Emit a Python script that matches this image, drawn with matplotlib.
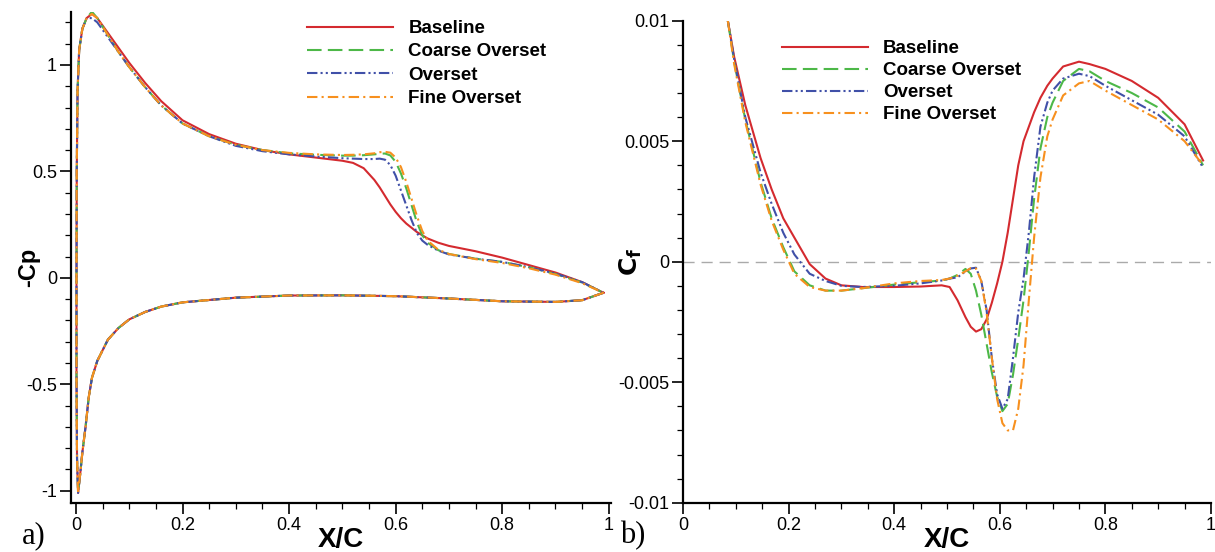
import matplotlib
matplotlib.use('Agg')
import matplotlib.pyplot as plt
from matplotlib.ticker import MultipleLocator
import numpy as np

plt.rcParams['font.family'] = ['Liberation Sans', 'DejaVu Sans']
plt.rcParams['axes.unicode_minus'] = False

labels = ['Baseline', 'Coarse Overset', 'Overset', 'Fine Overset']
colors = ['#d42a2f', '#4db848', '#4050a8', '#f7901e']
dashes = [None, (7, 3), (5, 1.5, 1, 1.5, 1, 1.5), (5, 2, 1, 2)]

# ---- panel a) pressure coefficient, -Cp vs x/c ----
# lower surface (shared, curves overlap), from stagnation point to TE
x_lower = [0.004, 0.008, 0.012, 0.018, 0.024, 0.03, 0.04, 0.05, 0.06, 0.08, 0.1,
           0.13, 0.16, 0.2, 0.3, 0.4, 0.5, 0.6, 0.7, 0.8, 0.9, 0.95, 0.99]
cp_lower = [-1.01, -0.92, -0.82, -0.70, -0.56, -0.47, -0.39, -0.34, -0.29, -0.235, -0.195,
            -0.16, -0.135, -0.115, -0.093, -0.083, -0.082, -0.086, -0.097, -0.11, -0.113, -0.105, -0.07]
# leading edge part of upper surface (shared)
x_le = [0.004, 0.002, 0.001, 0.001, 0.0015, 0.003, 0.006, 0.012, 0.02]
cp_le = [-1.01, -0.85, -0.45, 0.0, 0.5, 0.88, 1.07, 1.17, 1.22]
# upper surface
x_upper = [0.03, 0.04, 0.06, 0.08, 0.1, 0.13, 0.16, 0.2, 0.25, 0.3, 0.35, 0.4, 0.45, 0.5,
           0.52, 0.54, 0.56, 0.57, 0.58, 0.59, 0.6, 0.61, 0.62, 0.63, 0.64, 0.65, 0.66,
           0.68, 0.7, 0.75, 0.8, 0.85, 0.9, 0.95, 0.99]
cp_base = [1.24, 1.22, 1.15, 1.08, 1.01, 0.915, 0.83, 0.74, 0.675, 0.63, 0.60, 0.58, 0.565, 0.55,
           0.54, 0.515, 0.46, 0.425, 0.385, 0.345, 0.31, 0.28, 0.255, 0.235, 0.215, 0.20, 0.185,
           0.165, 0.15, 0.125, 0.095, 0.06, 0.025, -0.02, -0.07]
cp_coarse = [1.25, 1.22, 1.14, 1.06, 0.99, 0.895, 0.81, 0.725, 0.665, 0.625, 0.60, 0.585, 0.578, 0.574,
             0.574, 0.576, 0.58, 0.583, 0.584, 0.575, 0.545, 0.49, 0.42, 0.34, 0.26, 0.20, 0.165,
             0.13, 0.112, 0.09, 0.075, 0.05, 0.018, -0.022, -0.07]
cp_overset = [1.22, 1.20, 1.13, 1.06, 0.99, 0.895, 0.81, 0.725, 0.665, 0.62, 0.595, 0.58, 0.57, 0.562,
              0.56, 0.558, 0.558, 0.56, 0.555, 0.53, 0.48, 0.41, 0.34, 0.27, 0.21, 0.175, 0.155,
              0.128, 0.11, 0.09, 0.075, 0.05, 0.02, -0.02, -0.07]
cp_fine = [1.24, 1.22, 1.14, 1.06, 0.99, 0.895, 0.81, 0.725, 0.665, 0.625, 0.60, 0.587, 0.58, 0.577,
           0.578, 0.58, 0.585, 0.59, 0.592, 0.588, 0.565, 0.52, 0.45, 0.37, 0.29, 0.22, 0.175,
           0.132, 0.112, 0.088, 0.07, 0.045, 0.015, -0.025, -0.07]

# ---- panel b) skin friction coefficient ----
x_cf = [0.085, 0.097, 0.118, 0.147, 0.168, 0.19, 0.211, 0.24, 0.27, 0.30, 0.34, 0.40, 0.45, 0.49,
        0.505, 0.52, 0.535, 0.545, 0.555, 0.565, 0.575, 0.585, 0.595, 0.605, 0.615, 0.625, 0.635,
        0.645, 0.655, 0.665, 0.677, 0.69, 0.70, 0.72, 0.75, 0.77, 0.80, 0.85, 0.90, 0.95, 0.985]
cf_base = [0.0100, 0.0085, 0.0065, 0.0043, 0.0030, 0.0018, 0.0010, -0.0001, -0.0007, -0.00098,
           -0.00105, -0.00105, -0.00103, -0.00098, -0.00105, -0.0016, -0.0023, -0.0027, -0.0029,
           -0.0028, -0.0024, -0.0017, -0.0009, 0.0000, 0.0012, 0.0026, 0.0040, 0.0050, 0.0056,
           0.0062, 0.0068, 0.0073, 0.0076, 0.0081, 0.0083, 0.0082, 0.0080, 0.0075, 0.0068, 0.0057, 0.0042]
cf_coarse = [0.0100, 0.0083, 0.0059, 0.0033, 0.0018, 0.0006, -0.0004, -0.00098, -0.0012, -0.0012,
             -0.0011, -0.00095, -0.00085, -0.00078, -0.0007, -0.00055, -0.0003, -0.0005, -0.0012,
             -0.0022, -0.0034, -0.0046, -0.0056, -0.0062, -0.0059, -0.0047, -0.0032, -0.0016, 0.0004,
             0.0026, 0.0047, 0.0060, 0.0066, 0.0075, 0.0080, 0.0079, 0.0075, 0.0070, 0.0064, 0.0054, 0.0040]
cf_overset = [0.0100, 0.0084, 0.0060, 0.0037, 0.0024, 0.0012, 0.0003, -0.0005, -0.0008, -0.0010,
              -0.00105, -0.0010, -0.0009, -0.00078, -0.0007, -0.00065, -0.0004, -0.00028, -0.00025,
              -0.0008, -0.0020, -0.0040, -0.0055, -0.0061, -0.0057, -0.0040, -0.0021, -0.0007, 0.0012,
              0.0035, 0.0056, 0.0066, 0.0071, 0.0076, 0.0078, 0.0077, 0.0073, 0.0067, 0.0061, 0.0052, 0.0039]
cf_fine = [0.0100, 0.0082, 0.0058, 0.0032, 0.0017, 0.0005, -0.0005, -0.00105, -0.0012, -0.0012,
           -0.0011, -0.0009, -0.0008, -0.00076, -0.0007, -0.00058, -0.0004, -0.00027, -0.00028,
           -0.0008, -0.0021, -0.0040, -0.0057, -0.0067, -0.0070, -0.0070, -0.0061, -0.0043, -0.0016,
           0.0010, 0.0035, 0.0052, 0.0059, 0.0069, 0.0074, 0.0075, 0.0071, 0.0065, 0.0059, 0.0050, 0.0040]

xticks = [0, 0.2, 0.4, 0.6, 0.8, 1]
xticklabels = ['0', '0.2', '0.4', '0.6', '0.8', '1']
cp_ticks = [-1, -0.5, 0, 0.5, 1]
cp_ticklabels = ['-1', '-0.5', '0', '0.5', '1']
cf_ticks = [-0.01, -0.005, 0, 0.005, 0.01]
cf_ticklabels = ['-0.01', '-0.005', '0', '0.005', '0.01']

fig = plt.figure(figsize=(12.15, 5.52), dpi=100)
ax1 = fig.add_axes([0.0584, 0.0893, 0.4444, 0.8895])
ax2 = fig.add_axes([0.5621, 0.0893, 0.4346, 0.8732])

for ax in (ax1, ax2):
    for s in ('top', 'right'):
        ax.spines[s].set_visible(False)
    for s in ('left', 'bottom'):
        ax.spines[s].set_linewidth(1.6)
    ax.tick_params(which='major', direction='out', length=8, width=1.2, labelsize=13, pad=2)
    ax.tick_params(which='minor', direction='out', length=4.5, width=0.9)
    ax.set_xticks(xticks)
    ax.set_xticklabels(xticklabels)
    ax.xaxis.set_minor_locator(MultipleLocator(0.05))

leg_kw = dict(loc='upper left', bbox_transform=fig.transFigure, frameon=False,
              prop={'weight': 'bold', 'size': 13.5}, handlelength=4.6, handletextpad=0.8,
              borderpad=0, borderaxespad=0)

# panel a
series_cp = [cp_base, cp_coarse, cp_overset, cp_fine]
for cp, c, d, lab in zip(series_cp, colors, dashes, labels):
    xs = x_lower[::-1] + x_le[1:] + x_upper
    ys = cp_lower[::-1] + cp_le[1:] + cp
    line, = ax1.plot(xs, ys, color=c, lw=1.5, label=lab)
    if d is not None:
        line.set_dashes(d)
ax1.set_xlim(-0.0094, 1.004)
ax1.set_ylim(-1.056, 1.25)
ax1.set_yticks(cp_ticks)
ax1.set_yticklabels(cp_ticklabels)
ax1.yaxis.set_minor_locator(MultipleLocator(0.1))
ax1.set_xlabel('X/C', fontsize=20, fontweight='bold', labelpad=-5)
ax1.set_ylabel('-Cp', fontsize=17, fontweight='bold')
ax1.yaxis.set_label_coords(-0.057, 0.48)
ax1.legend(bbox_to_anchor=(307 / 1215, 1 - 20 / 552), labelspacing=0.33, **leg_kw)

# panel b
ax2.axhline(0, color='#aaaaaa', lw=1, dashes=(8, 5))
series_cf = [cf_base, cf_coarse, cf_overset, cf_fine]
for cf, c, d, lab in zip(series_cf, colors, dashes, labels):
    line, = ax2.plot(x_cf, cf, color=c, lw=1.5, label=lab)
    if d is not None:
        line.set_dashes(d)
ax2.set_xlim(0, 1)
ax2.set_ylim(-0.01, 0.01)
ax2.set_yticks(cf_ticks)
ax2.set_yticklabels(cf_ticklabels)
ax2.yaxis.set_minor_locator(MultipleLocator(0.001))
ax2.set_xlabel('X/C', fontsize=20, fontweight='bold', labelpad=-5)
ax2.set_ylabel(r'$\mathbf{C_f}$', fontsize=18)
ax2.yaxis.set_label_coords(-0.074, 0.5)
ax2.legend(bbox_to_anchor=(782 / 1215, 1 - 40 / 552), labelspacing=0.26, **leg_kw)

fig.text(22 / 1215, 2 / 552, 'a)', fontsize=22, family='Liberation Serif', va='bottom')
fig.text(620 / 1215, 2 / 552, 'b)', fontsize=22, family='Liberation Serif', va='bottom')

fig.savefig('out.png', dpi=100)
